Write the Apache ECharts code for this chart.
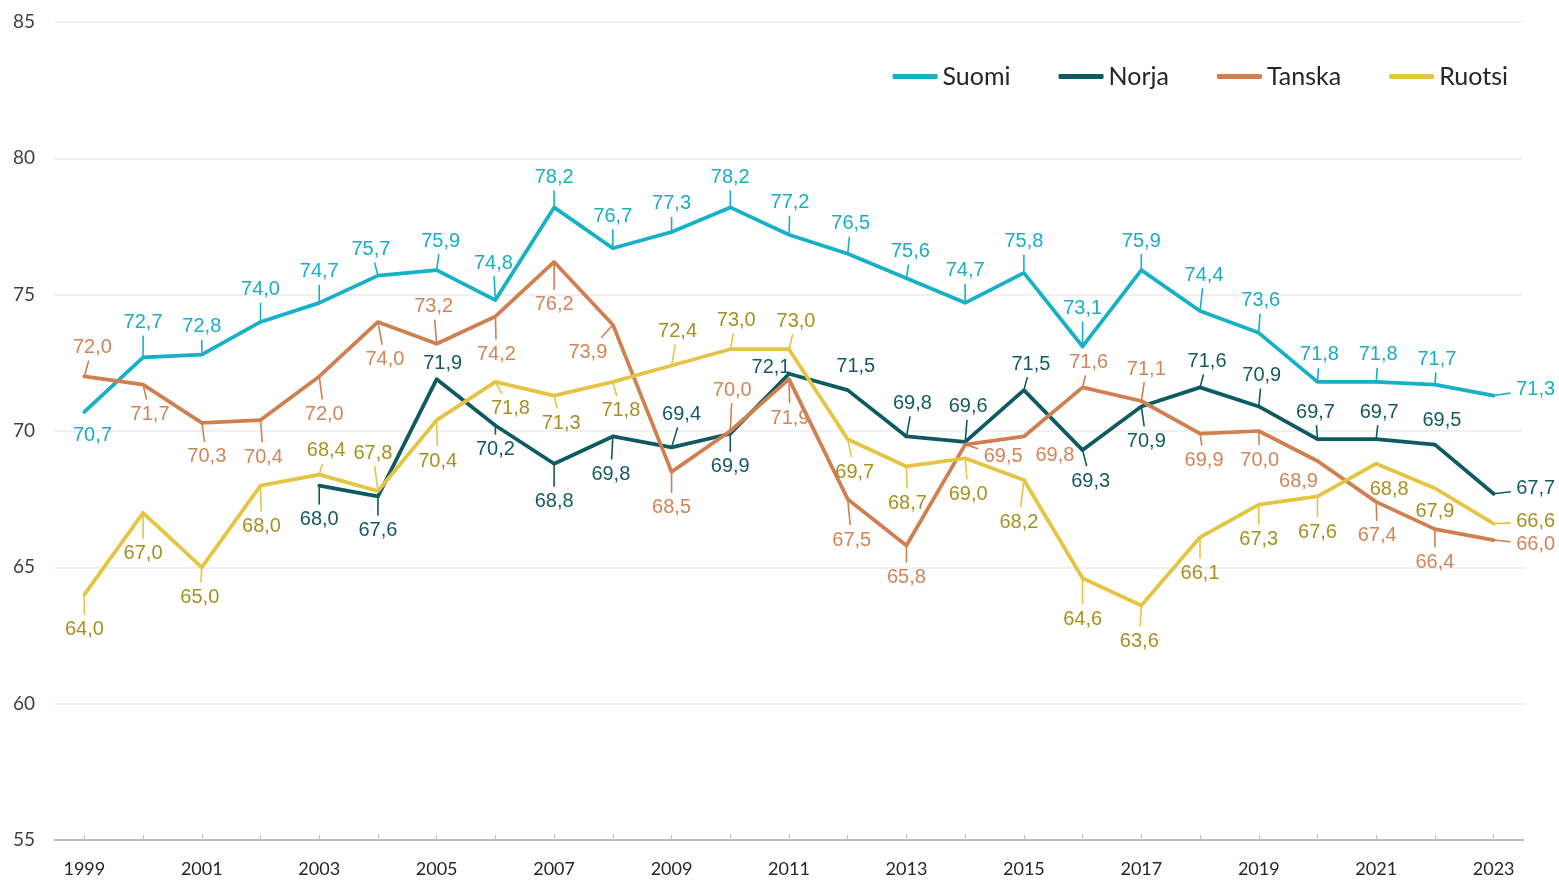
<!DOCTYPE html>
<html>
<head>
<meta charset="utf-8">
<script src="https://cdn.jsdelivr.net/npm/echarts@6/dist/echarts.min.js"></script>
<style>
  html, body { margin: 0; padding: 0; background: #fff; }
  #chart { width: 1559px; height: 882px; }
</style>
</head>
<body>
<div id="chart"></div>
<script>
const years = ['1999', '2000', '2001', '2002', '2003', '2004', '2005', '2006', '2007', '2008', '2009', '2010',
  '2011', '2012', '2013', '2014', '2015', '2016', '2017', '2018', '2019', '2020', '2021', '2022', '2023']

const suomi = [70.7, 72.7, 72.8, 74.0, 74.7, 75.7, 75.9, 74.8, 78.2, 76.7, 77.3, 78.2,
  77.2, 76.5, 75.6, 74.7, 75.8, 73.1, 75.9, 74.4, 73.6, 71.8, 71.8, 71.7, 71.3]
const norja = [null, null, null, null, 68.0, 67.6, 71.9, 70.2, 68.8, 69.8, 69.4, 69.9,
  72.1, 71.5, 69.8, 69.6, 71.5, 69.3, 70.9, 71.6, 70.9, 69.7, 69.7, 69.5, 67.7]
const tanska = [72.0, 71.7, 70.3, 70.4, 72.0, 74.0, 73.2, 74.2, 76.2, 73.9, 68.5, 70.0,
  71.9, 67.5, 65.8, 69.5, 69.8, 71.6, 71.1, 69.9, 70.0, 68.9, 67.4, 66.4, 66.0]
const ruotsi = [64.0, 67.0, 65.0, 68.0, 68.4, 67.8, 70.4, 71.8, 71.3, 71.8, 72.4, 73.0,
  73.0, 69.7, 68.7, 69.0, 68.2, 64.6, 63.6, 66.1, 67.3, 67.6, 68.8, 67.9, 66.6]

// label offsets from the point [dx, dy], third item 0 = no leader line
const suomiLabel = [[8, 24, 0], [0, -35], [0, -28], [0, -32], [0, -31], [-7, -26], [4, -29], [-2, -37], [0, -30],
  [0, -32], [0, -28], [0, -30], [1, -32], [3, -30], [4, -27], [0, -32], [0, -31], [0, -38], [0, -29], [4, -36],
  [2, -32], [2, -27], [2, -27], [2, -25], [42, -6]]
const norjaLabel = [null, null, null, null, [0, 34], [0, 34], [6, -16, 0], [0, 24], [0, 38], [-2, 38], [10, -33],
  [0, 33], [-18, -6, 0], [8, -24, 0], [6, -33], [3, -35], [7, -26], [8, 31], [5, 35], [7, -26], [3, -31],
  [-2, -27], [3, -27], [7, -24, 0], [42, -5]]
const tanskaLabel = [[8, -29], [7, 30], [5, 34], [3, 37], [5, 38], [7, 38], [-3, -37], [1, 38], [0, 43], [-25, 28],
  [0, 36], [2, -41], [1, 39], [4, 41], [0, 32], [38, 12], [31, 19, 0], [6, -25], [5, -32], [4, 27], [1, 29],
  [-19, 20, 0], [1, 34], [0, 33], [42, 4]]
const ruotsiLabel = [[0, 35], [0, 41], [-2, 30], [1, 41], [7, -24], [-5, -38], [1, 41], [15, 27], [7, 28], [8, 29],
  [6, -34], [6, -29], [7, -28], [7, 33], [1, 37], [3, 36], [-5, 42], [0, 41], [-2, 36], [0, 36], [0, 35],
  [0, 36], [13, 26, 0], [0, 23, 0], [42, -2]]

const axisFont = 'Lato, "Liberation Sans", sans-serif'
const labelFont = '"Liberation Sans", Arial, sans-serif'

function makeSeries(name, values, labelPos, color, labelColor) {
  return {
    name,
    type: 'line',
    z: 3,
    symbol: 'circle',
    symbolSize: 1,
    showAllSymbol: true,
    lineStyle: { color, width: 3.75, join: 'round', cap: 'round' },
    itemStyle: { color },
    label: {
      show: true,
      position: 'inside',
      color: labelColor,
      fontFamily: labelFont,
      fontSize: 20,
      formatter: (p) => p.value.toFixed(1).replace('.', ','),
    },
    emphasis: { disabled: true },
    data: values.map((v, i) => {
      if (v == null) return null
      return { value: v, label: { offset: [labelPos[i][0], labelPos[i][1]] } }
    }),
  }
}

// short leader line from the point towards its label, stopping before the text
function makeLeaders(name, values, labelPos, color) {
  return {
    name: name + ' viiva',
    type: 'custom',
    z: 2,
    silent: true,
    renderItem: (params, api) => {
      const pos = labelPos[params.dataIndex]
      const v = api.value(1)
      if (!pos || pos[2] === 0 || isNaN(v)) return null
      const p = api.coord([api.value(0), v])
      const dx = pos[0]
      const dy = pos[1]
      const hh = dy > 0 ? 15 : 13
      const s = Math.min(dx ? 25 / Math.abs(dx) : Infinity, dy ? hh / Math.abs(dy) : Infinity)
      if (s >= 1) return null
      return {
        type: 'line',
        shape: { x1: p[0], y1: p[1], x2: p[0] + dx * (1 - s), y2: p[1] + dy * (1 - s) },
        style: { stroke: color, lineWidth: 1.6 },
      }
    },
    data: values.map((v, i) => [i, v == null ? '-' : v]),
  }
}

const chart = echarts.init(document.getElementById('chart'))
chart.setOption({
  animation: false,
  backgroundColor: '#fff',
  grid: { left: 55, right: 36, top: 22, bottom: 42 },
  legend: {
    right: 46,
    top: 59,
    icon: 'roundRect',
    itemWidth: 45,
    itemHeight: 5,
    itemGap: 48,
    textStyle: { fontFamily: axisFont, fontSize: 25, color: '#262626' },
    data: ['Suomi', 'Norja', 'Tanska', 'Ruotsi'],
  },
  xAxis: {
    type: 'category',
    data: years,
    boundaryGap: true,
    axisLine: { lineStyle: { color: '#bfbfbf', width: 2 } },
    axisTick: { show: true, alignWithLabel: true, interval: 0, inside: true, length: 5, lineStyle: { color: '#bfbfbf' } },
    axisLabel: { interval: 1, margin: 20, fontFamily: axisFont, fontSize: 18, color: '#262626' },
  },
  yAxis: {
    type: 'value',
    min: 55,
    max: 85,
    interval: 5,
    axisLine: { show: false },
    axisTick: { show: false },
    axisLabel: { margin: 20, fontFamily: axisFont, fontSize: 19, color: '#404040' },
    splitLine: { lineStyle: { color: '#ebebeb', width: 1.5 } },
  },
  series: [
    makeSeries('Suomi', suomi, suomiLabel, '#17b1c7', '#1aadc4'),
    makeSeries('Norja', norja, norjaLabel, '#0d5b61', '#135b61'),
    makeSeries('Tanska', tanska, tanskaLabel, '#d08050', '#d2845a'),
    makeSeries('Ruotsi', ruotsi, ruotsiLabel, '#e5c444', '#a8901f'),
    makeLeaders('Suomi', suomi, suomiLabel, '#17b1c7'),
    makeLeaders('Norja', norja, norjaLabel, '#0d5b61'),
    makeLeaders('Tanska', tanska, tanskaLabel, '#d08050'),
    makeLeaders('Ruotsi', ruotsi, ruotsiLabel, '#e5c444'),
  ],
})
</script>
</body>
</html>
